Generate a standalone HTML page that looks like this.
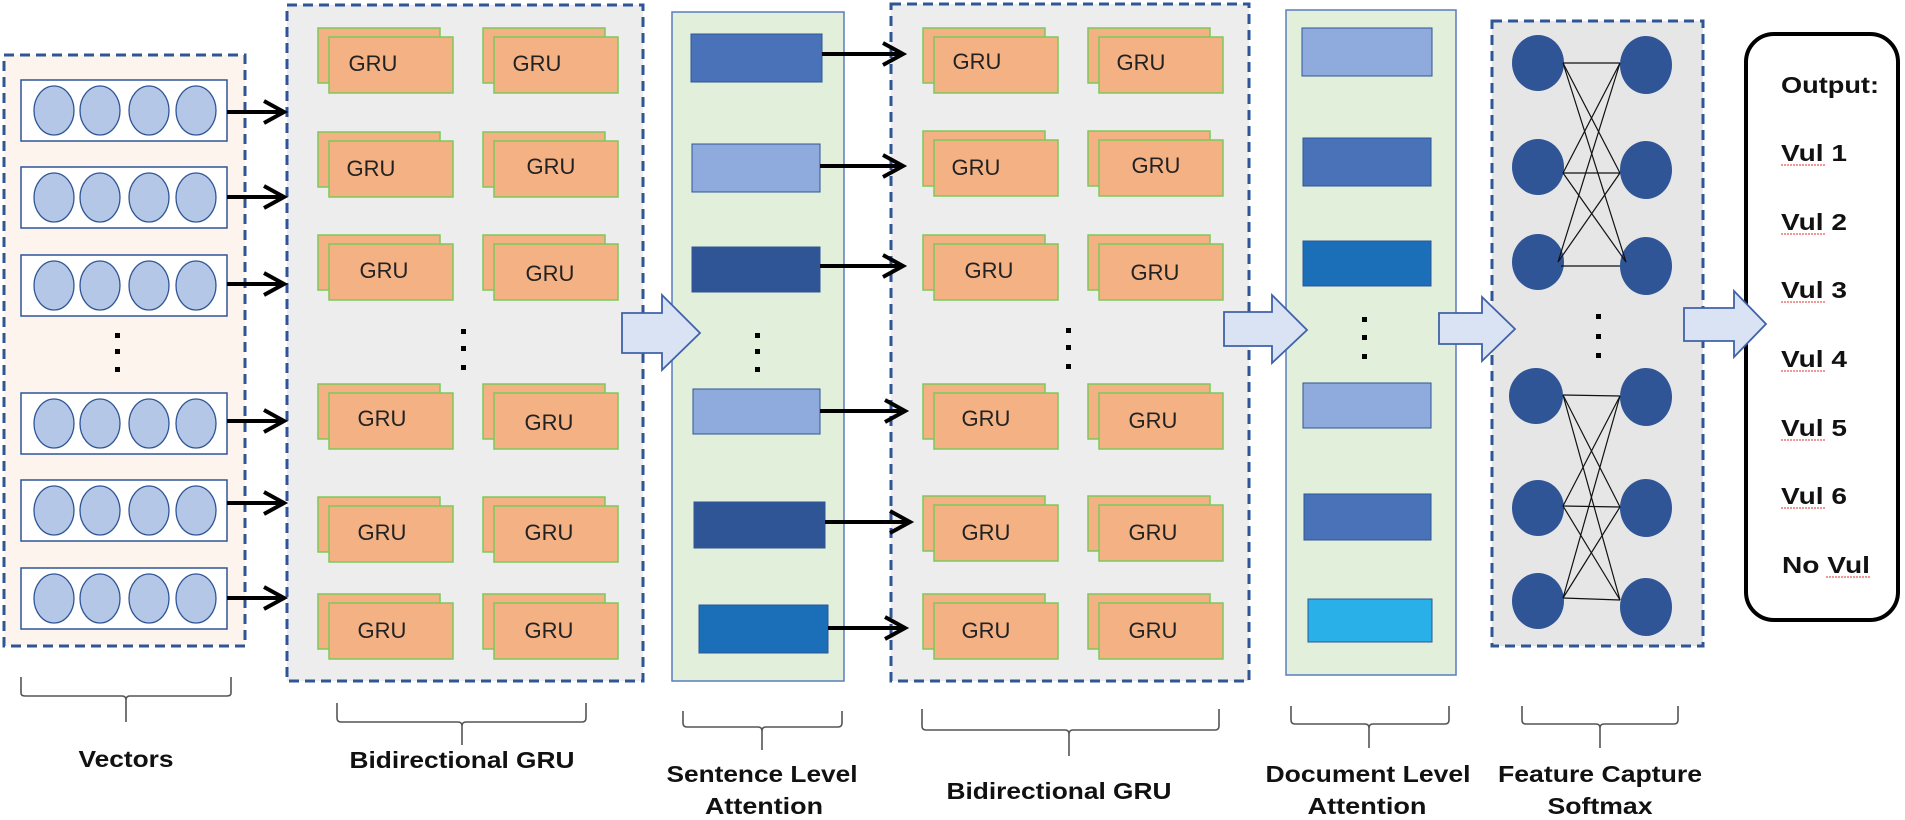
<!DOCTYPE html>
<html><head><meta charset="utf-8"><style>html,body{margin:0;padding:0;background:#fff}svg{display:block}</style></head>
<body>
<svg width="1905" height="820" viewBox="0 0 1905 820" xmlns="http://www.w3.org/2000/svg" font-family="Liberation Sans, sans-serif">
<defs>
  <g id="vrow">
    <rect x="21" y="0" width="206" height="61" fill="#fff" stroke="#2f5597" stroke-width="1.5"/>
    <ellipse cx="54" cy="30.5" rx="20" ry="24.5" fill="#b4c7e7" stroke="#2f5597" stroke-width="1.3"/>
    <ellipse cx="100" cy="30.5" rx="20" ry="24.5" fill="#b4c7e7" stroke="#2f5597" stroke-width="1.3"/>
    <ellipse cx="149" cy="30.5" rx="20" ry="24.5" fill="#b4c7e7" stroke="#2f5597" stroke-width="1.3"/>
    <ellipse cx="196" cy="30.5" rx="20" ry="24.5" fill="#b4c7e7" stroke="#2f5597" stroke-width="1.3"/>
  </g>
  <g id="card">
    <rect x="-11" y="-9" width="122" height="55" fill="#f4b183" stroke="#7cc95a" stroke-width="1.5"/>
    <rect x="0" y="0" width="124" height="56" fill="#f4b183" stroke="#7cc95a" stroke-width="1.5"/>
  </g>
</defs>

<!-- Vectors panel -->
<rect x="4" y="55" width="241" height="591" fill="#fdf4ee" stroke="#2f5597" stroke-width="3" stroke-dasharray="10 6"/>
<use href="#vrow" y="80"/>
<use href="#vrow" y="167"/>
<use href="#vrow" y="255"/>
<use href="#vrow" y="393"/>
<use href="#vrow" y="480"/>
<use href="#vrow" y="568"/>
<g fill="#000"><rect x="115" y="333" width="5" height="5"/><rect x="115" y="349" width="5" height="5"/><rect x="115" y="367" width="5" height="5"/></g>

<!-- GRU panel 1 -->
<rect x="287" y="5" width="356" height="676" fill="#ededed" stroke="#2f5597" stroke-width="3" stroke-dasharray="10 6"/>
<g font-size="22" fill="#222" text-anchor="middle">
<use href="#card" x="329" y="37"/><use href="#card" x="494" y="37"/>
<use href="#card" x="329" y="141"/><use href="#card" x="494" y="141"/>
<use href="#card" x="329" y="244"/><use href="#card" x="494" y="244"/>
<use href="#card" x="329" y="393"/><use href="#card" x="494" y="393"/>
<use href="#card" x="329" y="506"/><use href="#card" x="494" y="506"/>
<use href="#card" x="329" y="603"/><use href="#card" x="494" y="603"/>
<text x="373" y="71">GRU</text><text x="537" y="71">GRU</text>
<text x="371" y="176">GRU</text><text x="551" y="174">GRU</text>
<text x="384" y="278">GRU</text><text x="550" y="281">GRU</text>
<text x="382" y="426">GRU</text><text x="549" y="430">GRU</text>
<text x="382" y="540">GRU</text><text x="549" y="540">GRU</text>
<text x="382" y="638">GRU</text><text x="549" y="638">GRU</text>
</g>
<g fill="#000"><rect x="461" y="329" width="5" height="5"/><rect x="461" y="346" width="5" height="5"/><rect x="461" y="365" width="5" height="5"/></g>

<!-- Vector arrows (on top of panel border) -->
<g stroke="#000" stroke-width="4" fill="none">
  <path d="M227 112 H284 M264 101 L284 112 L264 123"/>
  <path d="M227 197 H284 M264 186 L284 197 L264 208"/>
  <path d="M227 284 H284 M264 273 L284 284 L264 295"/>
  <path d="M227 421 H284 M264 410 L284 421 L264 432"/>
  <path d="M227 503 H284 M264 492 L284 503 L264 514"/>
  <path d="M227 598 H284 M264 587 L284 598 L264 609"/>
</g>

<!-- Sentence attention -->
<rect x="672" y="12" width="172" height="669" fill="#e2efda" stroke="#5b7cc0" stroke-width="1.5"/>
<rect x="691" y="34" width="131" height="48" fill="#4a72b8" stroke="#2f5597" stroke-width="1"/>
<rect x="692" y="144" width="128" height="48" fill="#8faadc" stroke="#2f5597" stroke-width="1"/>
<rect x="692" y="247" width="128" height="45" fill="#2f5597" stroke="#2f5597" stroke-width="1"/>
<rect x="693" y="389" width="127" height="45" fill="#8faadc" stroke="#2f5597" stroke-width="1"/>
<rect x="694" y="502" width="131" height="46" fill="#2f5597" stroke="#2f5597" stroke-width="1"/>
<rect x="699" y="605" width="129" height="48" fill="#1a6fb8" stroke="#2f5597" stroke-width="1"/>
<g fill="#000"><rect x="755" y="333" width="5" height="5"/><rect x="755" y="349" width="5" height="5"/><rect x="755" y="367" width="5" height="5"/></g>

<!-- GRU panel 2 -->
<rect x="891" y="4" width="358" height="677" fill="#ededed" stroke="#2f5597" stroke-width="3" stroke-dasharray="10 6"/>
<g font-size="22" fill="#222" text-anchor="middle">
<use href="#card" x="934" y="37"/><use href="#card" x="1099" y="37"/>
<use href="#card" x="934" y="140"/><use href="#card" x="1099" y="140"/>
<use href="#card" x="934" y="244"/><use href="#card" x="1099" y="244"/>
<use href="#card" x="934" y="393"/><use href="#card" x="1099" y="393"/>
<use href="#card" x="934" y="505"/><use href="#card" x="1099" y="505"/>
<use href="#card" x="934" y="603"/><use href="#card" x="1099" y="603"/>
<text x="977" y="69">GRU</text><text x="1141" y="70">GRU</text>
<text x="976" y="175">GRU</text><text x="1156" y="173">GRU</text>
<text x="989" y="278">GRU</text><text x="1155" y="280">GRU</text>
<text x="986" y="426">GRU</text><text x="1153" y="428">GRU</text>
<text x="986" y="540">GRU</text><text x="1153" y="540">GRU</text>
<text x="986" y="638">GRU</text><text x="1153" y="638">GRU</text>
</g>
<g fill="#000"><rect x="1066" y="328" width="5" height="5"/><rect x="1066" y="345" width="5" height="5"/><rect x="1066" y="364" width="5" height="5"/></g>

<!-- Sentence arrows -->
<g stroke="#000" stroke-width="4" fill="none">
  <path d="M822 54 H903 M883 43 L903 54 L883 65"/>
  <path d="M820 166 H903 M883 155 L903 166 L883 177"/>
  <path d="M820 266 H903 M883 255 L903 266 L883 277"/>
  <path d="M820 411 H905 M885 400 L905 411 L885 422"/>
  <path d="M825 522 H910 M890 511 L910 522 L890 533"/>
  <path d="M828 628 H905 M885 617 L905 628 L885 639"/>
</g>

<!-- Document attention -->
<rect x="1286" y="10" width="170" height="665" fill="#e2efda" stroke="#5b7cc0" stroke-width="1.5"/>
<rect x="1302" y="28" width="130" height="48" fill="#8faadc" stroke="#2f5597" stroke-width="1"/>
<rect x="1303" y="138" width="128" height="48" fill="#4a72b8" stroke="#2f5597" stroke-width="1"/>
<rect x="1303" y="241" width="128" height="45" fill="#1a6fb8" stroke="#2f5597" stroke-width="1"/>
<rect x="1303" y="383" width="128" height="45" fill="#8faadc" stroke="#2f5597" stroke-width="1"/>
<rect x="1304" y="494" width="127" height="46" fill="#4a72b8" stroke="#2f5597" stroke-width="1"/>
<rect x="1308" y="599" width="124" height="43" fill="#29b0e8" stroke="#2f5597" stroke-width="1"/>
<g fill="#000"><rect x="1362" y="317" width="5" height="5"/><rect x="1362" y="335" width="5" height="5"/><rect x="1362" y="354" width="5" height="5"/></g>

<!-- Feature panel -->
<rect x="1492" y="21" width="211" height="625" fill="#e7e6e6" stroke="#2f5597" stroke-width="3" stroke-dasharray="10 6"/>
<g fill="#2f5597">
  <ellipse cx="1538" cy="63" rx="26" ry="28"/><ellipse cx="1538" cy="167" rx="26" ry="28"/><ellipse cx="1538" cy="262" rx="26" ry="28"/>
  <ellipse cx="1646" cy="65" rx="26" ry="29"/><ellipse cx="1646" cy="170" rx="26" ry="29"/><ellipse cx="1646" cy="266" rx="26" ry="29"/>
  <ellipse cx="1536" cy="396" rx="27" ry="28"/><ellipse cx="1538" cy="508" rx="26" ry="28"/><ellipse cx="1538" cy="601" rx="26" ry="28"/>
  <ellipse cx="1646" cy="397" rx="26" ry="29"/><ellipse cx="1646" cy="508" rx="26" ry="29"/><ellipse cx="1646" cy="607" rx="26" ry="29"/>
</g>
<g stroke="#111" stroke-width="1.2">
  <line x1="1563" y1="63" x2="1620" y2="63"/><line x1="1563" y1="63" x2="1620" y2="173"/><line x1="1563" y1="63" x2="1626" y2="262"/>
  <line x1="1563" y1="173" x2="1620" y2="63"/><line x1="1563" y1="173" x2="1620" y2="173"/><line x1="1563" y1="173" x2="1626" y2="262"/>
  <line x1="1558" y1="262" x2="1620" y2="63"/><line x1="1558" y1="262" x2="1620" y2="173"/><line x1="1561" y1="266" x2="1620" y2="266"/>
  <line x1="1563" y1="395" x2="1620" y2="396"/><line x1="1563" y1="395" x2="1620" y2="507"/><line x1="1563" y1="395" x2="1620" y2="600"/>
  <line x1="1563" y1="506" x2="1620" y2="396"/><line x1="1563" y1="506" x2="1620" y2="507"/><line x1="1563" y1="506" x2="1620" y2="600"/>
  <line x1="1563" y1="598" x2="1620" y2="396"/><line x1="1563" y1="598" x2="1620" y2="507"/><line x1="1563" y1="598" x2="1620" y2="600"/>
</g>
<g fill="#000"><rect x="1596" y="314" width="5" height="5"/><rect x="1596" y="334" width="5" height="5"/><rect x="1596" y="353" width="5" height="5"/></g>

<!-- Output box -->
<rect x="1746" y="34" width="152" height="586" rx="28" ry="28" fill="#fff" stroke="#000" stroke-width="4"/>
<g font-size="23" font-weight="bold" fill="#111">
  <text x="1781" y="93" textLength="98" lengthAdjust="spacingAndGlyphs">Output:</text>
  <text x="1781" y="161" textLength="66" lengthAdjust="spacingAndGlyphs">Vul 1</text>
  <text x="1781" y="230" textLength="66" lengthAdjust="spacingAndGlyphs">Vul 2</text>
  <text x="1781" y="298" textLength="66" lengthAdjust="spacingAndGlyphs">Vul 3</text>
  <text x="1781" y="367" textLength="66" lengthAdjust="spacingAndGlyphs">Vul 4</text>
  <text x="1781" y="436" textLength="66" lengthAdjust="spacingAndGlyphs">Vul 5</text>
  <text x="1781" y="504" textLength="66" lengthAdjust="spacingAndGlyphs">Vul 6</text>
  <text x="1782" y="573" textLength="88" lengthAdjust="spacingAndGlyphs">No Vul</text>
</g>
<g stroke="#e03030" stroke-width="1" fill="none" stroke-dasharray="2 1">
  <path d="M1781 165 h45"/><path d="M1781 234 h45"/><path d="M1781 302 h45"/><path d="M1781 371 h45"/><path d="M1781 440 h45"/><path d="M1781 508 h45"/><path d="M1826 577 h44"/>
</g>

<!-- Big arrows (on top) -->
<g fill="#dae3f3" stroke="#3f62a8" stroke-width="1.8">
  <path d="M622 313 H662 V295 L700 333 L662 370 V353 H622 Z"/>
  <path d="M1224 312 H1272 V295 L1307 330 L1272 363 V346 H1224 Z"/>
  <path d="M1439 313 H1482 V297 L1515 329 L1482 361 V344 H1439 Z"/>
  <path d="M1684 308 H1734 V291 L1766 324 L1734 357 V341 H1684 Z"/>
</g>

<!-- Braces -->
<g stroke="#555" stroke-width="1.6" fill="none">
  <path d="M21 677 V693 Q21 696 25 696 H122 Q126 696 126 700 V722 M126 700 Q126 696 130 696 H227 Q231 696 231 693 V677"/>
  <path d="M337 703 V718 Q337 722 341 722 H458 Q462 722 462 726 V745 M462 726 Q462 722 466 722 H582 Q586 722 586 718 V703"/>
  <path d="M683 711 V723 Q683 727 687 727 H758 Q762 727 762 731 V750 M762 731 Q762 727 766 727 H838 Q842 727 842 723 V711"/>
  <path d="M922 709 V726 Q922 730 926 730 H1065 Q1069 730 1069 734 V756 M1069 734 Q1069 730 1073 730 H1215 Q1219 730 1219 726 V709"/>
  <path d="M1291 706 V720 Q1291 724 1295 724 H1365 Q1369 724 1369 728 V748 M1369 728 Q1369 724 1373 724 H1445 Q1449 724 1449 720 V706"/>
  <path d="M1522 706 V720 Q1522 724 1526 724 H1596 Q1600 724 1600 728 V748 M1600 728 Q1600 724 1604 724 H1674 Q1678 724 1678 720 V706"/>
</g>

<!-- Labels -->
<g font-size="23" font-weight="bold" fill="#111" text-anchor="middle">
  <text x="126" y="767" textLength="95" lengthAdjust="spacingAndGlyphs">Vectors</text>
  <text x="462" y="768" textLength="225" lengthAdjust="spacingAndGlyphs">Bidirectional GRU</text>
  <text x="762" y="782" textLength="191" lengthAdjust="spacingAndGlyphs">Sentence Level</text>
  <text x="764" y="814" textLength="118" lengthAdjust="spacingAndGlyphs">Attention</text>
  <text x="1059" y="799" textLength="225" lengthAdjust="spacingAndGlyphs">Bidirectional GRU</text>
  <text x="1368" y="782" textLength="205" lengthAdjust="spacingAndGlyphs">Document Level</text>
  <text x="1367" y="814" textLength="119" lengthAdjust="spacingAndGlyphs">Attention</text>
  <text x="1600" y="782" textLength="204" lengthAdjust="spacingAndGlyphs">Feature Capture</text>
  <text x="1600" y="814" textLength="105" lengthAdjust="spacingAndGlyphs">Softmax</text>
</g>
</svg>
</body></html>
